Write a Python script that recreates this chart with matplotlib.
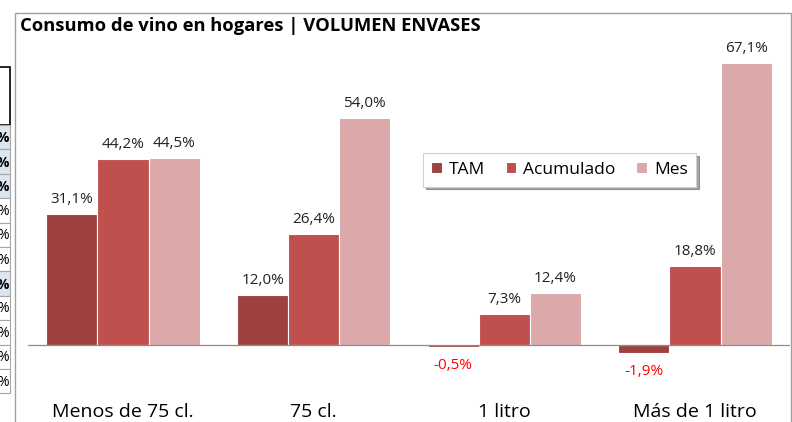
import matplotlib.pyplot as plt
from matplotlib.patches import Rectangle
import numpy as np

# Datos del grafico (variacion %)
categorias = ['Menos de 75 cl.', '75 cl.', '1 litro', 'Más de 1 litro']
tam = [31.1, 12.0, -0.5, -1.9]
acumulado = [44.2, 26.4, 7.3, 18.8]
mes = [44.5, 54.0, 12.4, 67.1]
series = ['TAM', 'Acumulado', 'Mes']
colores = ['#9E4140', '#C0504D', '#DBA9AA']

W, H = 792, 422
plt.rcParams['font.family'] = ['Open Sans', 'DejaVu Sans']
fig = plt.figure(figsize=(W / 100, H / 100), dpi=100)

def px(x, y):
    # pixel (desde arriba-izquierda) -> coordenadas de figura
    return x / W, 1 - y / H

# Fragmento de la hoja de calculo a la izquierda
fig.patches.append(Rectangle(px(-5, 125), 15 / W, 58 / H, transform=fig.transFigure,
                             fill=False, edgecolor='black', lw=1.2))
row_h = 24.4
blue_rows = [0, 1, 2, 6]
for i in range(11):
    y0 = 125 + i * row_h
    fc = '#DCE6F1' if i in blue_rows else 'white'
    fig.patches.append(Rectangle(px(-5, y0 + row_h), 15 / W, row_h / H, transform=fig.transFigure,
                                 facecolor=fc, edgecolor='#A6A6A6', lw=0.8))
    x, y = px(9, y0 + row_h / 2 + 1)
    fig.text(x, y, '%', ha='right', va='center', fontsize=10,
             fontweight='bold' if i in blue_rows else 'normal')

# Marco del grafico
fig.patches.append(Rectangle(px(15, 440), (791 - 15) / W, (440 - 13) / H,
                             transform=fig.transFigure, fill=False, edgecolor='#A0A0A0', lw=1))

x0, y0 = px(20, 26)
fig.text(x0, y0, 'Consumo de vino en hogares | VOLUMEN ENVASES', ha='left', va='center',
         fontsize=13.2, fontweight='bold')

ymin, ymax = -15, 75
zero_px, scale = 345, 4.2
ax_left, ax_right = 27.7, 790.3
top_px = zero_px - ymax * scale
bot_px = zero_px - ymin * scale
ax = fig.add_axes([ax_left / W, 1 - bot_px / H, (ax_right - ax_left) / W, (bot_px - top_px) / H])
ax.set_xlim(-0.5, 3.5)
ax.set_ylim(ymin, ymax)
ax.patch.set_alpha(0)
for s in ax.spines.values():
    s.set_visible(False)
ax.set_yticks([])

x = np.arange(len(categorias))
w = 0.268
for k, (vals, name, col) in enumerate(zip([tam, acumulado, mes], series, colores)):
    pos = x + (k - 1) * w
    ax.bar(pos, vals, width=w, color=col, edgecolor='white', linewidth=0.8, label=name, zorder=2)
    for xi, v in zip(pos, vals):
        lbl = f'{v:.1f}%'.replace('.', ',')
        if v >= 0:
            ax.annotate(lbl, (xi, v), xytext=(0, 5), textcoords='offset points',
                        ha='center', va='bottom', fontsize=11, color='#222222')
        else:
            ax.annotate(lbl, (xi, v), xytext=(0, -8), textcoords='offset points',
                        ha='center', va='top', fontsize=11, color='#FF0000')

ax.axhline(0, color='#8C8C8C', lw=0.9, zorder=3)
ax.set_xticks(x)
ax.set_xticklabels(categorias, fontsize=14)
ax.tick_params(axis='x', length=0, pad=-3.5)

leg = ax.legend(loc='center', bbox_to_anchor=((559.5 - ax_left) / (ax_right - ax_left),
                                               (bot_px - 170) / (bot_px - top_px)),
                ncol=3, fontsize=12.5, frameon=True, fancybox=False, shadow=True,
                handlelength=0.6, handleheight=0.6, handletextpad=0.4, columnspacing=1.2,
                borderpad=0.5)
leg.get_frame().set_edgecolor('#D0D0D0')
leg.get_frame().set_linewidth(0.8)

fig.savefig('out.png', dpi=100)
